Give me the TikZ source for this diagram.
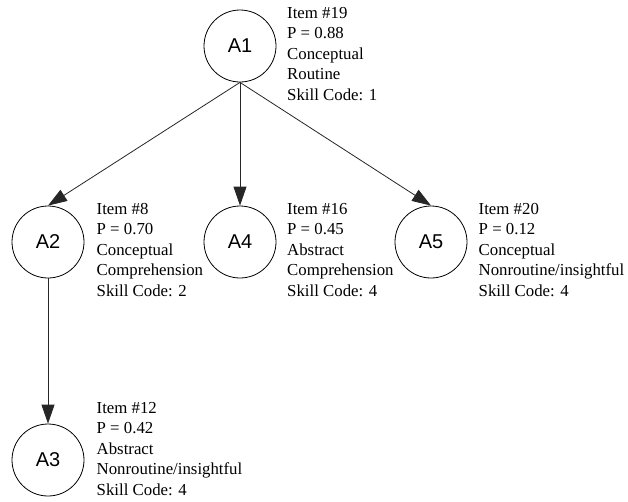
\documentclass[tikz,border=0pt]{standalone}
\usepackage{fontspec}
\setmainfont{Liberation Serif}
\newfontfamily\arialfont{Liberation Sans}
\usetikzlibrary{arrows.meta}
\begin{document}
\begin{tikzpicture}[x=1pt,y=-1pt,
  state/.style={circle,draw,line width=0.8pt,minimum size=72pt,inner sep=0pt,font=\arialfont\fontsize{20}{24}\selectfont},
  info/.style={anchor=base west,align=left,inner sep=0pt,font=\fontsize{16.8}{20.6}\selectfont},
  link/.style={draw=black!85,line width=0.8pt,-{Triangle[length=19pt,width=13pt]}}]
\useasboundingbox (0,0) rectangle (628,501);
\node[state] (A1) at (240,46) {A1};
\node[state] (A2) at (48,242) {A2};
\node[state] (A4) at (240,242) {A4};
\node[state] (A5) at (431,242) {A5};
\node[state] (A3) at (48,460) {A3};
\node[info] (t1) at (287,100.5) {Item \#19\\P = 0.88\\Conceptual\\Routine\\Skill Code: 1};
\node[info] (t2) at (96.5,296.5) {Item \#8\\P = 0.70\\Conceptual\\Comprehension\\Skill Code: 2};
\node[info] (t4) at (287,296.5) {Item \#16\\P = 0.45\\Abstract\\Comprehension\\Skill Code: 4};
\node[info] (t5) at (478.5,296.5) {Item \#20\\P = 0.12\\Conceptual\\Nonroutine/insightful\\Skill Code: 4};
\node[info] (t3) at (96.5,495.5) {Item \#12\\P = 0.42\\Abstract\\Nonroutine/insightful\\Skill Code: 4};
\draw[link] (A1.south) -- (A2.north);
\draw[link] (A1.south) -- (A4.north);
\draw[link] (A1.south) -- (A5.north);
\draw[link] (A2.south) -- (A3.north);
\end{tikzpicture}
\end{document}
